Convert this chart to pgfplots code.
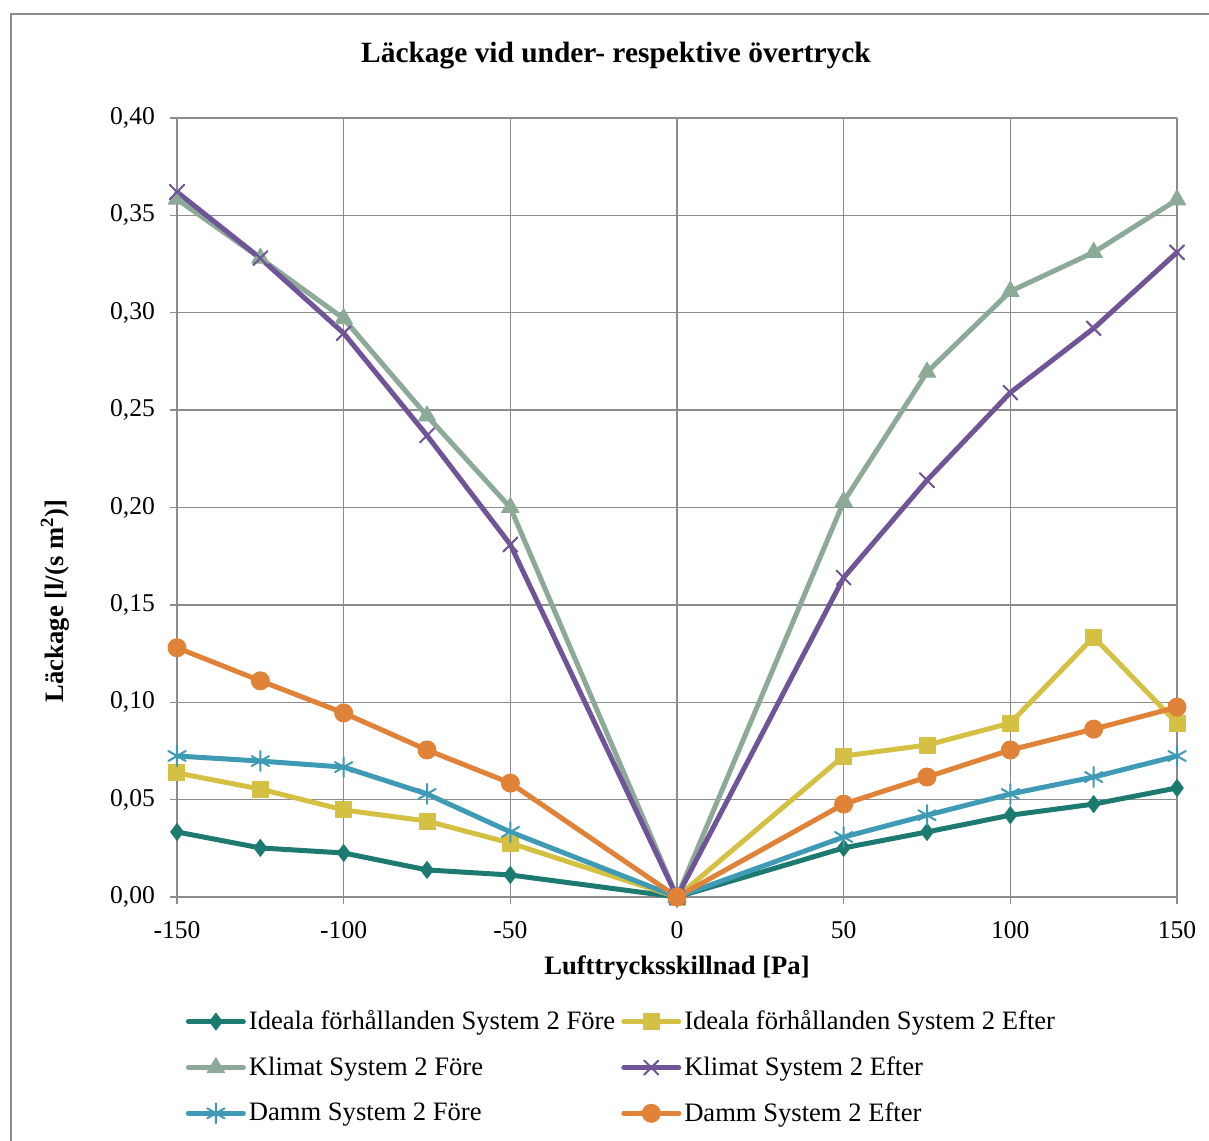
\documentclass[border=0pt]{standalone}
\usepackage{fontspec}
\setmainfont{Liberation Serif}
\usepackage{pgfplots}
\pgfplotsset{compat=1.18}
\definecolor{cIF}{HTML}{1C7A70}
\definecolor{cIE}{HTML}{D4C043}
\definecolor{cKF}{HTML}{8DAA99}
\definecolor{cKE}{HTML}{6F5497}
\definecolor{cDF}{HTML}{3F9AB5}
\definecolor{cDE}{HTML}{E08238}
\definecolor{gridc}{HTML}{8C8C8C}
\begin{document}
\begin{tikzpicture}
\useasboundingbox (0,0) rectangle (604.5pt,570pt);
\draw[gridc, line width=0.75pt] (5.5pt,-20pt) rectangle (620pt,563pt);
\node[font=\fontsize{14.7}{16}\selectfont\bfseries] at (308pt,542pt) {Läckage vid under- respektive övertryck};
\begin{axis}[
  at={(88.5pt,121.5pt)}, anchor=south west,
  scale only axis, width=500pt, height=389.5pt,
  xmin=-150, xmax=150, ymin=0, ymax=0.4,
  xtick={-150,-100,-50,0,50,100,150},
  ytick={0,0.05,0.1,0.15,0.2,0.25,0.3,0.35,0.4},
  grid=major,
  major grid style={gridc, line width=0.75pt},
  axis line style={gridc, line width=0.75pt},
  axis x line*=bottom, axis y line*=left,
  tick style={gridc, line width=0.75pt},
  tick align=outside, major tick length=3.5pt,
  every tick label/.append style={font=\fontsize{12.8}{14}\selectfont},
  /pgf/number format/assume math mode=true,
  yticklabel style={xshift=-4pt, /pgf/number format/.cd, use comma, fixed, fixed zerofill, precision=2},
  xticklabel style={yshift=-5pt},
  xlabel={Lufttrycksskillnad [Pa]},
  ylabel={Läckage [l/(s m\textsuperscript{2})]},
  xlabel style={font=\fontsize{13.3}{15}\selectfont\bfseries, at={(rel axis cs:0.5,-0.0911)}, anchor=center},
  ylabel style={font=\fontsize{13.3}{15}\selectfont\bfseries, at={(rel axis cs:-0.122,0.38)}, anchor=center},
  clip=false,
  legend columns=2,
  legend cell align=left,
  legend style={draw=none, fill=none, font=\fontsize{13.3}{15}\selectfont,
    at={(rel axis cs:0.0085,-0.14)}, anchor=north west,
    nodes={inner xsep=1.5pt},
    /tikz/every even column/.append style={column sep=1.5pt},
    row sep=8pt, inner sep=0pt},
  legend image code/.code={\draw[mark repeat=2,mark phase=2,#1] plot coordinates {(0pt,0pt)(13.75pt,0pt)(27.5pt,0pt)};},
  every axis plot/.append style={line width=2.5pt, line join=round, line cap=round},
]
\addplot[cIF, mark=diamond*, mark size=4.2pt, mark options={solid, line width=0.5pt}] coordinates {
(-150,0.0334) (-125,0.0252) (-100,0.0226) (-75,0.0139) (-50,0.0113) (0,0) (50,0.0252) (75,0.0334) (100,0.042) (125,0.0477) (150,0.056)};
\addlegendentry{Ideala förhållanden System 2 Före}
\addplot[cIE, mark=square*, mark size=4pt, mark options={solid, line width=0.5pt}] coordinates {
(-150,0.0637) (-125,0.0554) (-100,0.0447) (-75,0.039) (-50,0.0277) (0,0) (50,0.0724) (75,0.078) (100,0.0893) (125,0.1335) (150,0.0893)};
\addlegendentry{Ideala förhållanden System 2 Efter}
\addplot[cKF, mark=triangle*, mark size=5pt, mark options={solid, line width=0.5pt}] coordinates {
(-150,0.3583) (-125,0.328) (-100,0.297) (-75,0.247) (-50,0.2) (0,0) (50,0.203) (75,0.2695) (100,0.311) (125,0.331) (150,0.358)};
\addlegendentry{Klimat System 2 Före}
\addplot[cKE, mark=x, mark size=5pt, mark options={solid, line width=1pt}] coordinates {
(-150,0.362) (-125,0.328) (-100,0.2895) (-75,0.237) (-50,0.181) (0,0) (50,0.164) (75,0.214) (100,0.259) (125,0.292) (150,0.331)};
\addlegendentry{Klimat System 2 Efter}
\addplot[cDF, mark=asterisk, mark size=5pt, mark options={solid, line width=1pt}] coordinates {
(-150,0.0724) (-125,0.0698) (-100,0.0667) (-75,0.0529) (-50,0.0334) (0,0) (50,0.0308) (75,0.042) (100,0.0529) (125,0.0616) (150,0.0724)};
\addlegendentry{Damm System 2 Före}
\addplot[cDE, mark=*, mark size=4.5pt, mark options={solid, line width=0.5pt}] coordinates {
(-150,0.128) (-125,0.111) (-100,0.0945) (-75,0.0755) (-50,0.0585) (0,0) (50,0.0477) (75,0.0616) (100,0.0755) (125,0.0862) (150,0.0975)};
\addlegendentry{Damm System 2 Efter}
\end{axis}
\end{tikzpicture}
\end{document}
